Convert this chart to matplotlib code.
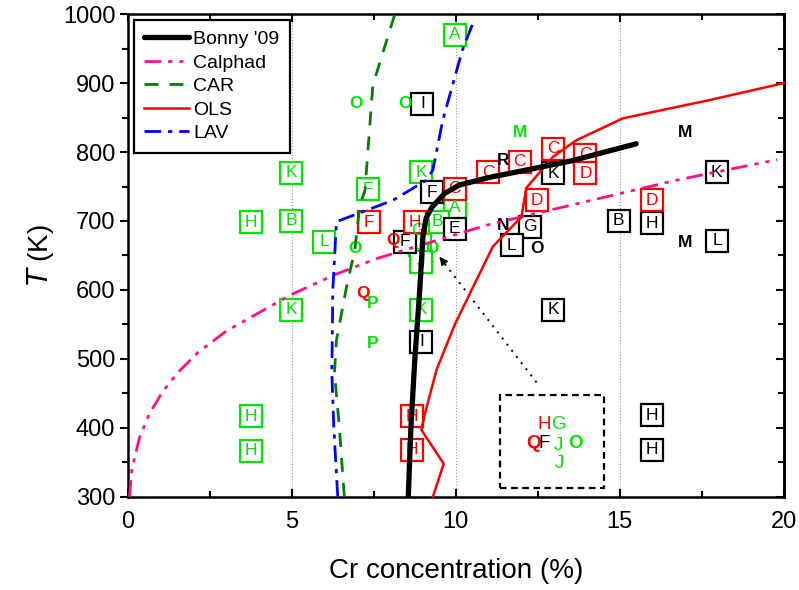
import numpy as np
import matplotlib.pyplot as plt
from matplotlib.patches import Rectangle
from matplotlib.ticker import MultipleLocator

plt.rcParams['font.family'] = ['Liberation Sans', 'DejaVu Sans']

# ---- curves (Cr %, T in K) ----
bonny_x = [8.55, 8.63, 8.75, 8.9, 9.0, 9.1, 9.27, 9.66, 10.1, 11.0, 11.95, 13.5, 15.5]
bonny_t = [300, 400, 500, 600, 680, 705, 720, 740, 752, 763, 772, 787, 812]

calphad_x = [0.05, 0.12, 0.35, 0.66, 1.07, 1.52, 2.13, 2.99, 4.97, 6.3, 7.62, 10.94, 14.4, 16.7, 19.8]
calphad_t = [300, 339, 385, 421, 453, 480, 509, 540, 593, 622, 646, 694, 733, 759, 789]

car_x = [6.6, 6.45, 6.3, 6.36, 6.67, 6.92, 7.07, 7.23, 7.47, 8.14]
car_t = [300, 400, 480, 527, 605, 658, 721, 745, 897, 1000]

ols_x = [9.3, 9.63, 8.95, 9.05, 9.41, 9.97, 10.43, 11.13, 12.0, 12.15, 12.96, 13.67, 15.1, 17.7, 20.0]
ols_t = [300, 348, 397, 419, 484, 550, 595, 663, 706, 748, 793, 817, 849, 875, 900]

lav_x = [6.4, 6.28, 6.22, 6.25, 6.36, 8.08, 9.1, 9.3, 9.6, 10.2, 10.58]
lav_t = [300, 400, 480, 600, 699, 730, 759, 774, 846, 948, 994]

# ---- boxed letters ----
box_letters = ['A', 'K', 'K', 'F', 'H', 'B', 'L', 'K', 'K', 'H', 'H', 'A', 'B', 'G', 'J', 'J',
               'I', 'F', 'E', 'F', 'I', 'K', 'G', 'L', 'K', 'B', 'H', 'K', 'L', 'H', 'H',
               'F', 'H', 'C', 'C', 'C', 'C', 'C', 'D', 'D', 'D', 'H', 'H']
box_x = [9.97, 4.98, 8.95, 7.32, 3.76, 4.98, 5.98, 4.98, 8.95, 3.76, 3.76, 9.97, 9.45, 8.85, 8.9, 8.95,
         8.98, 9.26, 9.97, 8.45, 8.95, 12.97, 12.26, 11.7, 12.97, 14.97, 15.97, 17.95, 17.97, 15.97, 15.97,
         7.35, 8.75, 9.97, 10.99, 11.95, 12.97, 13.95, 13.95, 12.46, 15.97, 8.67, 8.67]
box_t = [970, 770, 771, 746, 698, 700, 670, 571, 571, 417, 367, 720, 699, 686, 665, 641,
         870, 742, 689, 670, 525, 769, 692, 665, 571, 700, 697, 771, 671, 418, 368,
         698, 698, 747, 771, 786, 805, 796, 769, 730, 730, 417, 368]
box_colors = ['#00e400'] * 16 + ['black'] * 15 + ['red'] * 12

# ---- plain (bold) letters ----
bold_letters = ['R', 'N', 'O', 'M', 'M', 'O', 'O', 'M', 'O', 'P', 'P', 'O', 'Q', 'Q']
bold_x = [11.44, 11.44, 12.46, 16.98, 16.98, 6.95, 8.45, 11.95, 6.92, 7.46, 7.46, 9.26, 8.08, 7.17]
bold_t = [788, 694, 660, 829, 669, 870, 870, 829, 660, 581, 522, 660, 671, 595]
bold_colors = ['black'] * 5 + ['#00e400'] * 7 + ['red'] * 2

# ---- magnified inset of the cluster near 9 % ----
inset_letters = ['H', 'G', 'Q', 'F', 'J', 'O', 'J']
inset_x = [12.71, 13.17, 12.36, 12.69, 13.12, 13.66, 13.15]
inset_t = [405, 405, 378, 378, 375, 377, 348]
inset_colors = ['red', '#00e400', 'red', 'black', '#00e400', '#00e400', '#00e400']
inset_bold = [False, False, True, False, False, True, False]
inset_box = (11.34, 313, 14.51, 448)
arrow_from = (12.46, 466)
arrow_to = (9.45, 651)

fig = plt.figure(figsize=(7.99, 5.90), dpi=100)
ax = fig.add_axes([0.160, 0.158, 0.821, 0.818])

ax.grid(axis='x', ls=':', color='0.6', lw=0.8, zorder=0)

# boxes first, curves drawn over them
for lx, lt, lc in zip(box_x, box_t, box_colors):
    ax.plot(lx, lt, 's', ms=16, mfc='white', mec=lc, mew=1.6, zorder=2)
for s, lx, lt, lc in zip(box_letters, box_x, box_t, box_colors):
    ax.text(lx, lt, s, color=lc, fontsize=12.5, ha='center', va='center', zorder=2.5)
for s, lx, lt, lc in zip(bold_letters, bold_x, bold_t, bold_colors):
    ax.text(lx, lt, s, color=lc, fontsize=12.5, fontweight='bold', ha='center', va='center', zorder=2.5)
for s, lx, lt, lc, b in zip(inset_letters, inset_x, inset_t, inset_colors, inset_bold):
    ax.text(lx, lt, s, color=lc, fontsize=13.5, fontweight='bold' if b else 'normal',
            ha='center', va='center', zorder=2.5)

x0, t0, x1, t1 = inset_box
ax.add_patch(Rectangle((x0, t0), x1 - x0, t1 - t0, fill=False, ec='black', lw=1.6,
                       ls=(0, (3, 2)), zorder=2))
ax.plot([arrow_from[0], arrow_to[0]], [arrow_from[1], arrow_to[1]], color='black', lw=1.4,
        ls=(0, (1, 3)), zorder=3)
ax.annotate('', xy=arrow_to, xytext=(arrow_to[0] + 0.25, arrow_to[1] - 15),
            arrowprops=dict(arrowstyle='-|>', color='black', lw=1, mutation_scale=12), zorder=3)

ax.plot(calphad_x, calphad_t, color='#ff0f8a', lw=2, ls=(0, (6, 2.5, 1.5, 2.5, 1.5, 2.5)),
        label='Calphad', zorder=3)
ax.plot(car_x, car_t, color='#007f00', lw=2, ls=(0, (5, 4)), label='CAR', zorder=3)
ax.plot(ols_x, ols_t, color='red', lw=1.8, label='OLS', zorder=3, clip_on=False)
ax.plot(lav_x, lav_t, color='blue', lw=2, ls=(0, (6, 2.5, 1.5, 2.5)), label='LAV', zorder=3)
ax.plot(bonny_x, bonny_t, color='black', lw=3.8, solid_capstyle='round', label="Bonny '09", zorder=4)

handles, labels = ax.get_legend_handles_labels()
order = [4, 0, 1, 2, 3]
leg = ax.legend([handles[i] for i in order], [labels[i] for i in order], loc='upper left',
                fontsize=14, handlelength=2.3, handletextpad=0.2, labelspacing=0.3,
                borderpad=0.55, borderaxespad=0.3, fancybox=False, framealpha=1)
leg.get_frame().set_edgecolor('black')
leg.get_frame().set_linewidth(1.6)

ax.set_xlim(0, 20)
ax.set_ylim(300, 1000)
ax.xaxis.set_major_locator(MultipleLocator(5))
ax.xaxis.set_minor_locator(MultipleLocator(2.5))
ax.yaxis.set_major_locator(MultipleLocator(100))
ax.yaxis.set_minor_locator(MultipleLocator(50))
ax.tick_params(axis='x', which='both', direction='in', top=True, width=1.5, pad=10)
ax.tick_params(axis='y', which='both', direction='out', right=False, width=1.5, pad=3)
ax.tick_params(which='major', length=6, labelsize=17)
ax.tick_params(which='minor', length=4)

sec = ax.secondary_yaxis('right')
sec.yaxis.set_major_locator(MultipleLocator(100))
sec.yaxis.set_minor_locator(MultipleLocator(50))
sec.tick_params(which='both', direction='in', width=1.5, labelright=False)
sec.tick_params(which='major', length=6)
sec.tick_params(which='minor', length=4)
sec.spines['right'].set_linewidth(1.8)

for sp in ax.spines.values():
    sp.set_linewidth(1.8)

ax.set_xlabel('Cr concentration (%)', fontsize=20, labelpad=18)
ax.set_ylabel('$T$ (K)', fontsize=20, labelpad=5)

fig.savefig('out.png', dpi=100)
